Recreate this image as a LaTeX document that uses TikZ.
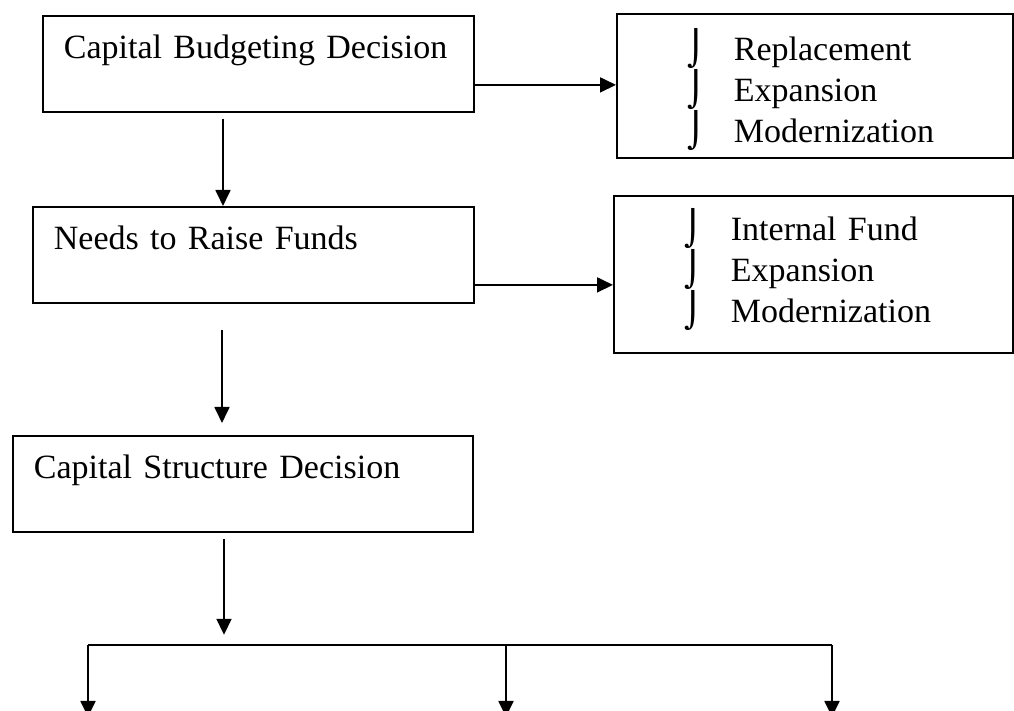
\documentclass[tikz,border=0pt]{standalone}
\usepackage{fontspec}
\setmainfont{Liberation Serif}
\newfontfamily\bulfont{DejaVu Serif}
\usetikzlibrary{arrows.meta,positioning,calc}

% list item with the hooked bullet
\newcommand{\tick}[1]{\hspace*{35.5pt}\makebox[23pt][l]{\bulfont ⌡}#1}

\begin{document}
\begin{tikzpicture}[x=0.5pt,y=-0.5pt,font=\fontsize{17}{20.5}\selectfont,line width=0.9pt,
  box/.style={draw,anchor=north west,inner sep=0pt,align=left,
    text height=21.3pt,text depth=26.7pt},
  list/.style={draw,anchor=north west,inner sep=0pt,align=left},
  arr/.style={-{Triangle[length=8pt,width=7.5pt]}}]
\path[use as bounding box] (0,0) rectangle (1014,711);
% left column
\node[box,text width=215.5pt] (budget) at (42,15) {\hspace*{10.5pt}Capital Budgeting Decision};
\node[box,text width=220.5pt] (funds) at (32,206) {\hspace*{10.5pt}Needs to Raise Funds};
\node[box,text width=230pt] (structure) at (12,435) {\hspace*{10.5pt}Capital Structure Decision};
% right column
\node[list,text width=198pt,text height=23.5pt,text depth=48.5pt] (uses) at (616,13)
  {\tick{Replacement}\\\tick{Expansion}\\\tick{Modernization}};
\node[list,text width=199.5pt,text height=22.5pt,text depth=56pt] (sources) at (613,195)
  {\tick{Internal Fund}\\\tick{Expansion}\\\tick{Modernization}};
% side arrows
\coordinate (o1) at ([yshift=-10.5pt]budget.east);
\coordinate (o2) at ([yshift=-15pt]funds.east);
\draw[arr] (o1) -- (o1 -| uses.west);
\draw[arr] (o2) -- (o2 -| sources.west);
% down arrows
\coordinate (d1) at ($(budget.south west)+(181,6)$);
\coordinate (d2) at ($(funds.south west)+(190,26)$);
\coordinate (d3) at ($(structure.south west)+(212,6)$);
\draw[arr] (d1) -- (d1 |- funds.north);
\draw[arr] (d2) -- ($(d2 |- structure.north)+(0,-12)$);
\draw[arr] (d3) -- ++(0,96);
% split into three
\coordinate (sl) at (88,645);
\coordinate (sm) at (506,645);
\coordinate (sr) at (832,645);
\draw (sl) -- (sr);
\draw[arr] (sl) -- ++(0,72);
\draw[arr] (sm) -- ++(0,72);
\draw[arr] (sr) -- ++(0,72);
\end{tikzpicture}
\end{document}
